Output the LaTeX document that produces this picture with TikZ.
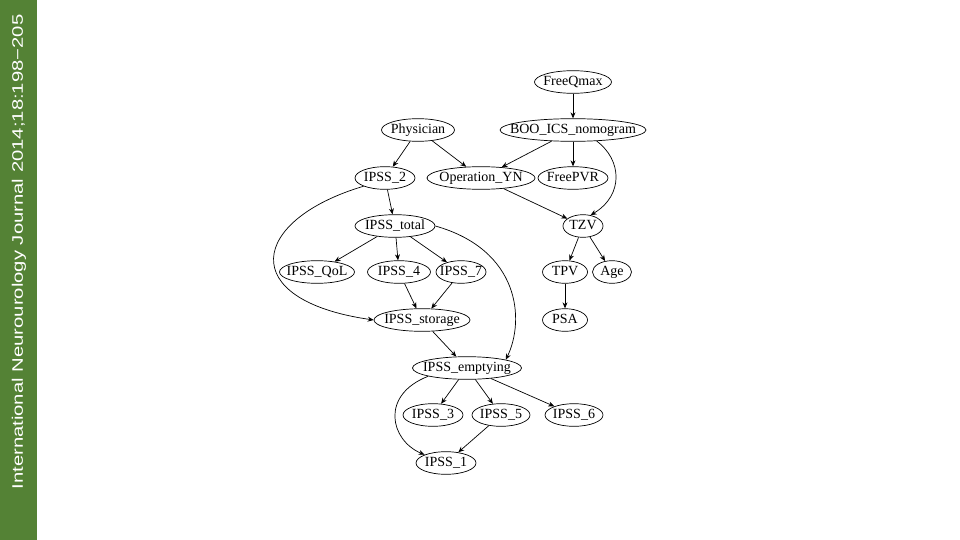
\documentclass[tikz,border=0pt]{standalone}
\usepackage{fontspec}
\setmainfont{Liberation Serif}
\newfontfamily\barfont{Liberation Sans}
\usetikzlibrary{shapes.geometric,arrows.meta}
\definecolor{bargreen}{RGB}{84,130,53}
\newcommand{\lbl}[1]{\makebox[0pt]{\strut #1}}
\tikzset{
  nd/.style={ellipse,draw,line width=0.7pt,inner sep=0pt,minimum height=21pt,minimum width=#1,font=\fontsize{14}{16}\selectfont},
  ed/.style={line width=0.7pt,-{Stealth[length=6pt,width=5pt]}}
}
\begin{document}
\begin{tikzpicture}[x=1pt,y=-1pt]
\useasboundingbox (0,0) rectangle (960,540);
\fill[bargreen] (0,0) rectangle (37,540);
\node[rotate=90,text=white,inner sep=0pt] (title) at (19,252) {\resizebox{475pt}{!}{\barfont\fontsize{16}{18}\selectfont\scalebox{1.33}[1]{International Neurourology Journal 2014;18:198−205}}};
% nodes
\node[nd=77pt]  (fq)  at (573,82)  {\lbl{FreeQmax}};
\node[nd=146pt] (boo) at (573,130) {\lbl{BOO\_ICS\_nomogram}};
\node[nd=73pt]  (ph)  at (418,130) {\lbl{Physician}};
\node[nd=60pt]  (i2)  at (385,178) {\lbl{IPSS\_2}};
\node[nd=108pt] (op)  at (481,178) {\lbl{Operation\_YN}};
\node[nd=70pt]  (pvr) at (573,178) {\lbl{FreePVR}};
\node[nd=80pt]  (tot) at (395,226) {\lbl{IPSS\_total}};
\node[nd=40pt]  (tzv) at (583,226) {\lbl{TZV}};
\node[nd=75pt]  (qol) at (317,272) {\lbl{IPSS\_QoL}};
\node[nd=63pt]  (i4)  at (399,272) {\lbl{IPSS\_4}};
\node[nd=50pt]  (i7)  at (461,272) {\lbl{IPSS\_7}};
\node[nd=45pt]  (tpv) at (565,272) {\lbl{TPV}};
\node[nd=39pt]  (age) at (612,272) {\lbl{Age}};
\node[nd=96pt]  (st)  at (422,320) {\lbl{IPSS\_storage}};
\node[nd=45pt]  (psa) at (565,320) {\lbl{PSA}};
\node[nd=109pt] (em)  at (467,368) {\lbl{IPSS\_emptying}};
\node[nd=60pt]  (i3)  at (433,415) {\lbl{IPSS\_3}};
\node[nd=58pt]  (i5)  at (501,415) {\lbl{IPSS\_5}};
\node[nd=58pt]  (i6)  at (574,415) {\lbl{IPSS\_6}};
\node[nd=60pt]  (i1)  at (446,463) {\lbl{IPSS\_1}};
% edges
\draw[ed] (fq) -- (boo);
\draw[ed] (ph) -- (i2);
\draw[ed] (ph) -- (op);
\draw[ed] (boo) -- (op);
\draw[ed] (boo) -- (pvr);
\draw[ed] (boo.-25) .. controls (622,160) and (624,195) .. (tzv.55);
\draw[ed] (op) -- (tzv);
\draw[ed] (i2) -- (tot);
\draw[ed] (i2.south west) .. controls (250,220) and (235,300) .. (st.west);
\draw[ed] (tot) -- (qol);
\draw[ed] (tot) -- (i4);
\draw[ed] (tot) -- (i7);
\draw[ed] (tot.east) .. controls (520,250) and (525,320) .. (em.north east);
\draw[ed] (i4) -- (st);
\draw[ed] (i7) -- (st);
\draw[ed] (st) -- (em);
\draw[ed] (tzv) -- (tpv);
\draw[ed] (tzv) -- (age);
\draw[ed] (tpv) -- (psa);
\draw[ed] (em) -- (i3);
\draw[ed] (em) -- (i5);
\draw[ed] (em) -- (i6);
\draw[ed] (em.south west) .. controls (380,395) and (390,440) .. (i1.north west);
\draw[ed] (i5) -- (i1);
\end{tikzpicture}
\end{document}
